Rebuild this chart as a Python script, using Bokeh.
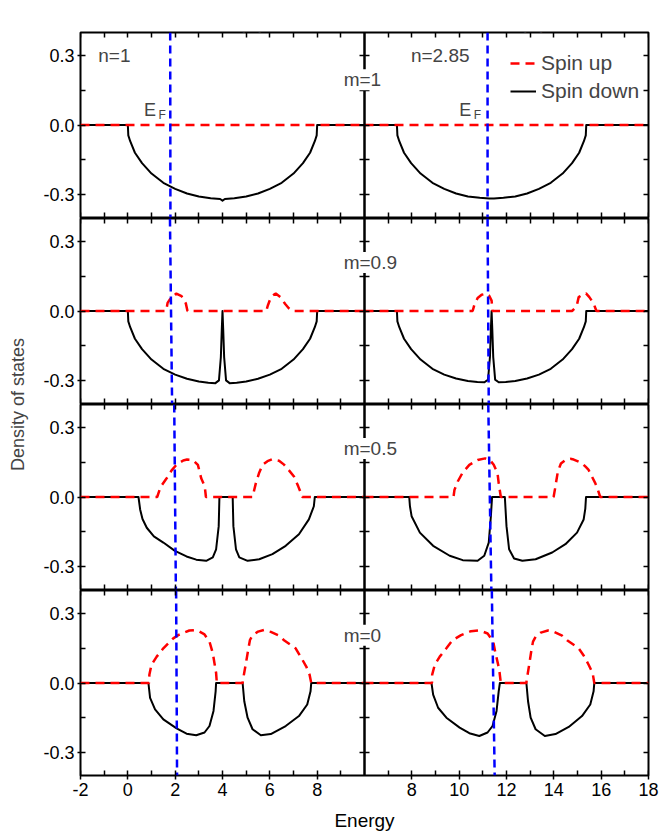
import math
from bokeh.plotting import figure
from bokeh.models import (Range1d, LinearAxis, FixedTicker, NumeralTickFormatter,
                          Label, Legend, LegendItem, Span)
from bokeh.layouts import row, column
from bokeh.embed import file_html
from bokeh.resources import INLINE

# ------------------------------------------------------------------ data
PANEL_TITLES = ["(a)", "(b)"]
N_LABELS = ["n=1", "n=2.85"]
M_LABELS = ["m=1", "m=0.9", "m=0.5", "m=0"]
LEGEND_LABELS = ["Spin up", "Spin down"]
X_TICKS_A = [-2, 0, 2, 4, 6, 8]
X_MINOR_A = [-1, 1, 3, 5, 7, 9]
X_TICKS_B = [8, 10, 12, 14, 16, 18]
X_MINOR_B = [7, 9, 11, 13, 15, 17]
Y_TICKS = [-0.3, 0.0, 0.3]
Y_MINOR = [-0.15, 0.15]
X_LABEL = "Energy"
Y_LABEL = "Density of states"
FERMI_MAIN = "E"
FERMI_SUB = "F"

# Fermi level (dashed blue line): energy at top / bottom of each panel
EF_A_TOP = [1.79, 1.78, 1.96, 2.04]
EF_A_BOT = [1.80, 1.87, 2.03, 2.08]
EF_B_TOP = [11.20, 11.20, 11.23, 11.38]
EF_B_BOT = [11.20, 11.25, 11.36, 11.50]

# ---- row 1 (m=1)
DN_E_A1 = [-2, 0, 0.02, 0.1, 0.3, 0.6, 1.0, 1.5, 2.0, 2.5, 3.0, 3.5, 3.9, 4.0, 4.1,
           4.5, 5.0, 5.5, 6.0, 6.5, 7.0, 7.4, 7.7, 7.9, 7.98, 8.0, 10]
DN_D_A1 = [0, 0, -0.045, -0.07, -0.12, -0.165, -0.21, -0.25, -0.276, -0.296, -0.309,
           -0.317, -0.32, -0.327, -0.32, -0.317, -0.309, -0.296, -0.276, -0.25, -0.21,
           -0.165, -0.12, -0.07, -0.045, 0, 0]
UP_E_A1 = [-2, 10]
UP_D_A1 = [0, 0]
DN_E_B1 = [6, 7.37, 7.39, 7.47, 7.67, 7.97, 8.37, 8.87, 9.37, 9.87, 10.37, 10.87, 11.27,
           11.37, 11.47, 11.87, 12.37, 12.87, 13.37, 13.87, 14.37, 14.77, 15.07, 15.27,
           15.35, 15.37, 18]
DN_D_B1 = [0, 0, -0.045, -0.07, -0.12, -0.165, -0.21, -0.25, -0.276, -0.296, -0.309,
           -0.315, -0.318, -0.318, -0.318, -0.315, -0.309, -0.296, -0.276, -0.25, -0.21,
           -0.165, -0.12, -0.07, -0.045, 0, 0]
UP_E_B1 = [6, 18]
UP_D_B1 = [0, 0]

# ---- row 2 (m=0.9)
DN_E_A2 = [-2, 0, 0.02, 0.1, 0.3, 0.6, 1.0, 1.5, 2.0, 2.5, 3.0, 3.4, 3.7, 3.85, 3.93,
           3.97, 4.0, 4.03, 4.07, 4.15, 4.3, 4.6, 5.0, 5.5, 6.0, 6.5, 7.0, 7.4, 7.7, 7.9,
           7.98, 8.0, 10]
DN_D_A2 = [0, 0, -0.045, -0.07, -0.12, -0.165, -0.21, -0.25, -0.275, -0.293, -0.305,
           -0.31, -0.312, -0.30, -0.2, -0.08, 0, -0.08, -0.2, -0.30, -0.312, -0.31,
           -0.305, -0.293, -0.275, -0.25, -0.21, -0.165, -0.12, -0.07, -0.045, 0, 0]
UP_E_A2 = [-2, 1.62, 1.68, 1.85, 2.05, 2.27, 2.45, 2.52, 5.85, 5.92, 6.0, 6.1, 6.25,
           6.45, 6.65, 6.8, 6.95, 10]
UP_D_A2 = [0, 0, 0.035, 0.062, 0.075, 0.064, 0.033, 0, 0, 0.025, 0.047, 0.065, 0.076,
           0.06, 0.03, 0.012, 0, 0]
DN_E_B2 = [6, 7.37, 7.39, 7.47, 7.67, 7.97, 8.37, 8.87, 9.37, 9.87, 10.37, 10.77, 11.07,
           11.22, 11.30, 11.34, 11.37, 11.40, 11.44, 11.52, 11.67, 11.97, 12.37, 12.87,
           13.37, 13.87, 14.37, 14.77, 15.07, 15.27, 15.35, 15.37, 18]
DN_D_B2 = [0, 0, -0.045, -0.07, -0.12, -0.165, -0.21, -0.25, -0.275, -0.292, -0.303,
           -0.307, -0.308, -0.297, -0.2, -0.08, 0, -0.08, -0.2, -0.297, -0.308, -0.307,
           -0.303, -0.292, -0.275, -0.25, -0.21, -0.165, -0.12, -0.07, -0.045, 0, 0]
UP_E_B2 = [6, 10.57, 10.64, 10.78, 10.95, 11.15, 11.27, 11.37, 11.41, 14.77, 14.9,
           14.98, 15.05, 15.2, 15.36, 15.5, 15.68, 15.8, 18]
UP_D_B2 = [0, 0, 0.026, 0.056, 0.07, 0.075, 0.066, 0.045, 0, 0, 0.013, 0.028, 0.06,
           0.07, 0.076, 0.06, 0.033, 0, 0]

# ---- row 3 (m=0.5)
DN_E_A3 = [-2, 0.45, 0.52, 0.62, 0.8, 1.1, 1.5, 1.99, 2.48, 2.89, 3.31, 3.59, 3.73,
           3.84, 3.87, 4.43, 4.46, 4.57, 4.71, 5.06, 5.55, 6.11, 6.67, 7.23, 7.65, 7.86,
           7.9, 10]
DN_D_A3 = [0, 0, -0.054, -0.095, -0.133, -0.17, -0.197, -0.233, -0.257, -0.271, -0.276,
           -0.261, -0.226, -0.126, 0, 0, -0.126, -0.226, -0.261, -0.276, -0.269, -0.247,
           -0.211, -0.161, -0.097, -0.04, 0, 0]
UP_E_A3 = [-2, 1.24, 1.38, 1.64, 1.85, 2.05, 2.34, 2.5, 2.75, 2.96, 3.1, 3.25, 3.3,
           5.27, 5.41, 5.55, 5.69, 5.9, 6.1, 6.39, 6.6, 6.74, 7.02, 7.2, 7.34, 7.37, 10]
UP_D_A3 = [0, 0, 0.043, 0.081, 0.115, 0.139, 0.158, 0.162, 0.16, 0.139, 0.081, 0.046, 0,
           0, 0.06, 0.105, 0.139, 0.155, 0.163, 0.157, 0.14, 0.124, 0.089, 0.046, 0.01,
           0, 0]
DN_E_B3 = [6, 7.89, 7.92, 7.99, 8.34, 8.9, 9.6, 10.15, 10.78, 11.06, 11.25, 11.34,
           11.39, 11.93, 12.0, 12.11, 12.32, 12.67, 13.23, 13.93, 14.49, 14.98, 15.26,
           15.33, 15.36, 18]
DN_D_B3 = [0, 0, -0.04, -0.083, -0.154, -0.211, -0.254, -0.273, -0.276, -0.254, -0.197,
           -0.083, 0, 0, -0.126, -0.226, -0.266, -0.276, -0.269, -0.24, -0.204, -0.154,
           -0.097, -0.05, 0, 0]
UP_E_B3 = [6, 9.76, 9.8, 9.94, 10.15, 10.43, 10.78, 11.1, 11.3, 11.46, 11.62, 11.67,
           11.76, 13.99, 14.05, 14.1, 14.17, 14.3, 14.49, 14.7, 14.84, 15.19, 15.35,
           15.47, 15.75, 15.86, 15.96, 18]
UP_D_B3 = [0, 0, 0.03, 0.067, 0.106, 0.139, 0.16, 0.167, 0.16, 0.139, 0.103, 0.06, 0,
           0, 0.035, 0.067, 0.11, 0.145, 0.16, 0.165, 0.162, 0.146, 0.13, 0.117, 0.06,
           0.031, 0, 0]

# ---- row 4 (m=0)
DN_E_A4 = [-2, 0.87, 0.94, 1.15, 1.5, 2.06, 2.48, 2.89, 3.24, 3.45, 3.62, 3.71, 3.73,
           4.85, 4.92, 5.06, 5.27, 5.62, 6.04, 6.67, 7.23, 7.58, 7.72, 7.75, 10]
DN_D_A4 = [0, 0, -0.064, -0.114, -0.157, -0.196, -0.219, -0.226, -0.214, -0.186, -0.121,
           -0.036, 0, 0, -0.079, -0.15, -0.2, -0.226, -0.221, -0.186, -0.143, -0.093,
           -0.036, 0, 0]
UP_E_A4 = [-2, 0.9, 0.91, 1.0, 1.22, 1.5, 1.92, 2.13, 2.6, 2.85, 3.03, 3.24, 3.45,
           3.59, 3.73, 3.76, 4.85, 4.86, 4.99, 5.08, 5.16, 5.27, 5.5, 5.75, 6.04, 6.39,
           6.6, 7.09, 7.3, 7.54, 7.68, 7.75, 10]
UP_D_A4 = [0, 0, 0.036, 0.079, 0.114, 0.15, 0.193, 0.207, 0.227, 0.229, 0.222, 0.21,
           0.179, 0.129, 0.043, 0, 0, 0.01, 0.086, 0.14, 0.186, 0.207, 0.222, 0.229,
           0.221, 0.205, 0.185, 0.15, 0.114, 0.071, 0.036, 0, 0]
DN_E_B4 = [6, 8.83, 8.9, 9.11, 9.46, 10.02, 10.43, 10.85, 11.2, 11.41, 11.58, 11.67,
           11.72, 12.84, 12.91, 13.02, 13.23, 13.62, 14.07, 14.63, 15.19, 15.54, 15.68,
           15.71, 18]
DN_D_B4 = [0, 0, -0.05, -0.107, -0.15, -0.193, -0.217, -0.229, -0.214, -0.186, -0.121,
           -0.036, 0, 0, -0.079, -0.15, -0.2, -0.229, -0.221, -0.19, -0.143, -0.093,
           -0.036, 0, 0]
UP_E_B4 = [6, 8.85, 8.86, 8.97, 9.18, 9.46, 9.72, 10.08, 10.5, 10.8, 11.0, 11.2, 11.44,
           11.52, 11.69, 11.76, 12.84, 12.85, 12.98, 13.05, 13.12, 13.23, 13.45, 13.75,
           14.0, 14.35, 14.56, 15.05, 15.26, 15.47, 15.64, 15.71, 18]
UP_D_B4 = [0, 0, 0.036, 0.079, 0.114, 0.15, 0.185, 0.207, 0.224, 0.227, 0.222, 0.214,
           0.179, 0.136, 0.06, 0, 0, 0.01, 0.093, 0.14, 0.179, 0.2, 0.218, 0.227, 0.221,
           0.205, 0.185, 0.15, 0.119, 0.079, 0.043, 0, 0]

# ------------------------------------------------------------------ style / layout
FONT = "Liberation Sans"
XA = (-2, 10)          # panel (a) energy range
XB = (6, 18)           # panel (b) energy range
Y_RANGE = (-0.4, 0.4)
FRAME_W, FRAME_H = 568, 185
BORDER_L, BORDER_R = 44, 11
BOTTOM_BORDER = 60
STRIP_W = 36
TOTAL_H = 835

DN_A = [(DN_E_A1, DN_D_A1), (DN_E_A2, DN_D_A2), (DN_E_A3, DN_D_A3), (DN_E_A4, DN_D_A4)]
DN_B = [(DN_E_B1, DN_D_B1), (DN_E_B2, DN_D_B2), (DN_E_B3, DN_D_B3), (DN_E_B4, DN_D_B4)]
UP_A = [(UP_E_A1, UP_D_A1), (UP_E_A2, UP_D_A2), (UP_E_A3, UP_D_A3), (UP_E_A4, UP_D_A4)]
UP_B = [(UP_E_B1, UP_D_B1), (UP_E_B2, UP_D_B2), (UP_E_B3, UP_D_B3), (UP_E_B4, UP_D_B4)]
M_POS_X = 9.12
M_POS_Y = [0.196, 0.21, 0.21, 0.207]
N_POS_A = (-1.25, 0.30)
N_POS_B = (7.96, 0.30)
EF_TXT_A = (0.68, 1.30)
EF_TXT_B = (10.0, 10.62)
TITLE_X_A, TITLE_X_B = 5.24, 13.12
TITLE_Y = 0.452

BLACK = "black"
RED = "#ff0000"
BLUE = "#0000ff"


def add_axis(p, place, ticks, minor, fixed=None, xname=None):
    """Inward-only tick marks drawn on a frame edge."""
    ax = LinearAxis(ticker=FixedTicker(ticks=ticks, minor_ticks=minor))
    if xname is not None:
        ax.x_range_name = xname
    if fixed is not None:
        ax.fixed_location = fixed
    ax.axis_line_color = None
    ax.major_tick_line_color = BLACK
    ax.major_tick_line_width = 1.5
    ax.minor_tick_line_color = BLACK
    ax.minor_tick_line_width = 1.5
    ax.major_tick_in = 5
    ax.minor_tick_in = 5
    ax.minor_tick_out = 0
    ax.major_tick_out = 0
    ax.major_label_text_color = None
    p.add_layout(ax, place)
    return ax


def style_labels(ax):
    ax.axis_line_color = None
    ax.major_tick_line_color = BLACK
    ax.major_tick_line_width = 1.5
    ax.major_tick_in = 0
    ax.major_tick_out = 4
    ax.minor_tick_line_color = None
    ax.major_label_text_font = FONT
    ax.major_label_text_font_size = "18px"
    ax.major_label_text_color = BLACK
    ax.major_label_standoff = 3


def txt(x, y, text, size, align="left", xname="default", **kw):
    return Label(x=x, y=y, text=text, text_font=FONT, text_font_size=size,
                 text_align=align, text_baseline="middle", x_range_name=xname, **kw)


def make_row(r):
    last = r == 3
    p = figure(frame_width=FRAME_W, frame_height=FRAME_H,
               x_range=Range1d(XA[0], XA[1] + (XA[1] - XA[0])),
               y_range=Range1d(*Y_RANGE),
               x_axis_type=None, y_axis_type=None,
               toolbar_location=None, output_backend="svg",
               min_border_left=BORDER_L, min_border_right=BORDER_R,
               min_border_top=32 if r == 0 else 0,
               min_border_bottom=BOTTOM_BORDER if last else 1)
    p.extra_x_ranges = {"b": Range1d(XB[0] - (XB[1] - XB[0]), XB[1])}
    p.outline_line_color = BLACK
    p.outline_line_width = 2
    p.background_fill_color = "white"
    p.border_fill_color = "white"

    # labelled outer left axis
    yax = LinearAxis(ticker=FixedTicker(ticks=Y_TICKS, minor_ticks=Y_MINOR),
                     formatter=NumeralTickFormatter(format="0.0"))
    style_labels(yax)
    yax.major_tick_in = 5
    yax.major_tick_out = 3
    yax.minor_tick_line_color = BLACK
    yax.minor_tick_line_width = 1.5
    yax.minor_tick_in = 5
    yax.minor_tick_out = 0
    p.add_layout(yax, "left")

    # inward ticks on every panel edge
    add_axis(p, "right", Y_TICKS, Y_MINOR, fixed=XA[1])
    add_axis(p, "left", Y_TICKS, Y_MINOR, fixed=XB[0], xname="b")
    add_axis(p, "right", Y_TICKS, Y_MINOR, fixed=XB[1], xname="b")
    add_axis(p, "above", X_TICKS_A, X_MINOR_A, fixed=Y_RANGE[1])
    add_axis(p, "above", X_TICKS_B, X_MINOR_B, fixed=Y_RANGE[1], xname="b")
    add_axis(p, "below", X_TICKS_A, X_MINOR_A, fixed=Y_RANGE[0])
    add_axis(p, "below", X_TICKS_B, X_MINOR_B, fixed=Y_RANGE[0], xname="b")

    if last:
        # one labelled energy axis under both panels: panel (b) ticks are placed
        # at their position on the shared frame
        pos_b = [t - XB[0] + XA[1] for t in X_TICKS_B]
        xax = LinearAxis(ticker=FixedTicker(ticks=X_TICKS_A + pos_b))
        xax.major_label_overrides = {pos: str(t) for pos, t in
                                     zip(X_TICKS_A + pos_b, X_TICKS_A + X_TICKS_B)}
        style_labels(xax)
        xax.axis_label = X_LABEL
        xax.axis_label_text_font = FONT
        xax.axis_label_text_font_size = "19px"
        xax.axis_label_text_font_style = "normal"
        xax.axis_label_text_color = BLACK
        xax.axis_label_standoff = 11
        p.add_layout(xax, "below")

    p.add_layout(Span(location=XA[1], dimension="height", line_color=BLACK, line_width=2.5))

    e, d = DN_A[r]
    p.line(e, d, line_color=BLACK, line_width=2, line_join="round")
    e, d = UP_A[r]
    p.line(e, d, line_color=RED, line_width=2.5, line_dash="9 6")
    e, d = DN_B[r]
    r_dn = p.line(e, d, line_color=BLACK, line_width=2, line_join="round", x_range_name="b")
    e, d = UP_B[r]
    r_up = p.line(e, d, line_color=RED, line_width=2.5, line_dash="9 6", x_range_name="b")

    p.line([EF_A_TOP[r], EF_A_BOT[r]], [Y_RANGE[1], Y_RANGE[0]], line_color=BLUE,
           line_width=2.5, line_dash="8 5")
    p.line([EF_B_TOP[r], EF_B_BOT[r]], [Y_RANGE[1], Y_RANGE[0]], line_color=BLUE,
           line_width=2.5, line_dash="8 5", x_range_name="b")

    if r == 0:
        p.add_layout(txt(N_POS_A[0], N_POS_A[1], N_LABELS[0], "19px"))
        p.add_layout(txt(N_POS_B[0], N_POS_B[1], N_LABELS[1], "19px", xname="b"))
        p.add_layout(txt(EF_TXT_A[0], 0.065, FERMI_MAIN, "18px"))
        p.add_layout(txt(EF_TXT_A[1], 0.042, FERMI_SUB, "12px"))
        p.add_layout(txt(EF_TXT_B[0], 0.065, FERMI_MAIN, "18px", xname="b"))
        p.add_layout(txt(EF_TXT_B[1], 0.042, FERMI_SUB, "12px", xname="b"))
        p.add_layout(txt(TITLE_X_A, TITLE_Y, PANEL_TITLES[0], "23px", align="center"))
        p.add_layout(txt(TITLE_X_B, TITLE_Y, PANEL_TITLES[1], "23px", align="center",
                         xname="b"))
        leg = Legend(items=[LegendItem(label=LEGEND_LABELS[0], renderers=[r_up]),
                            LegendItem(label=LEGEND_LABELS[1], renderers=[r_dn])],
                     location=(430, 114), orientation="vertical",
                     border_line_color=None, background_fill_alpha=0,
                     label_text_font=FONT, label_text_font_size="21px",
                     glyph_width=26, glyph_height=20, label_height=21,
                     label_standoff=5, spacing=4, padding=0, margin=0)
        p.add_layout(leg)

    p.add_layout(txt(M_POS_X, M_POS_Y[r], M_LABELS[r], "19px",
                     background_fill_color="white"))
    return p


rows = [make_row(r) for r in range(4)]

ps = figure(width=STRIP_W, height=TOTAL_H, x_range=Range1d(0, STRIP_W),
            y_range=Range1d(0, TOTAL_H), x_axis_type=None, y_axis_type=None,
            toolbar_location=None, output_backend="svg", min_border=0)
ps.outline_line_color = None
ps.add_layout(Label(x=17, y=TOTAL_H - 404, text=Y_LABEL, text_font=FONT,
                    text_font_size="18px", angle=math.pi / 2, text_align="center",
                    text_baseline="middle"))

layout = row(ps, column(*rows))

open("out.html", "w").write(file_html(layout, INLINE))
